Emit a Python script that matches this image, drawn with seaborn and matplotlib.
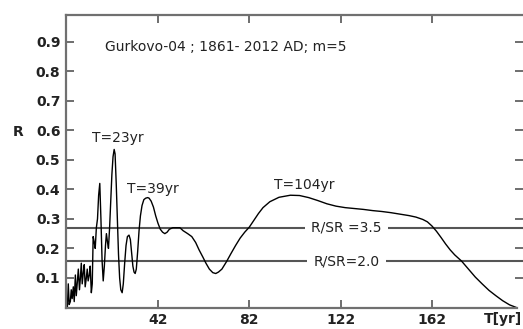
import numpy as np
import pandas as pd
import matplotlib
matplotlib.use('Agg')
import matplotlib.pyplot as plt
import seaborn as sns

# ── Data ─────────────────────────────────────────────────────────────────────
period = [2.0, 2.3, 2.7, 3.1, 3.6, 4.0, 4.4, 4.9, 5.3, 5.8, 6.2, 6.7, 7.1, 7.6,
          8.0, 8.4, 8.8, 9.3, 9.7, 10.1, 10.6, 11.0, 11.4, 11.9, 12.3, 12.8,
          13.2, 13.6, 14.1, 14.5, 15.0, 15.5, 16.0, 16.5, 17.0, 17.5, 18.0,
          18.5, 19.0, 19.4, 19.9, 20.3, 20.8, 21.3, 21.8, 22.3, 22.8, 23.2,
          23.7, 24.2, 24.7, 25.2, 25.7, 26.3, 26.8, 27.4, 28.0, 28.6, 29.3,
          29.9, 30.5, 31.0, 31.5, 32.0, 32.5, 33.1, 33.7, 34.3, 35.0, 35.8,
          36.6, 37.5, 38.1, 39.0, 40.0, 41.0, 42.0, 43.0, 44.0, 45.0, 46.0,
          47.0, 48.5, 50.0, 51.6, 53.0, 55.0, 56.8, 58.5, 60.0, 61.7, 63.0,
          64.5, 66.0, 67.3, 68.5,
          70.0, 72.0, 74.0, 76.0, 78.0, 80.0, 82.0, 84.0, 86.0, 88.0,
          91.0, 95.0, 100.0, 104.0, 108.0, 112.0, 116.0, 120.0, 124.0, 128.0,
          132.0, 136.0, 140.0, 144.0, 148.0, 152.0, 155.0, 158.0, 160.0, 162.0,
          164.0, 166.0, 168.0, 170.0, 172.0, 175.0, 178.0, 181.0, 184.0, 187.0,
          190.0, 193.0, 196.0, 199.0]
r_value = [0.0, 0.0, 0.08, 0.01, 0.02, 0.06, 0.03, 0.07, 0.02, 0.11, 0.04,
           0.09, 0.13, 0.06, 0.10, 0.15, 0.08, 0.12, 0.145, 0.07, 0.10, 0.13,
           0.09, 0.11, 0.14, 0.05, 0.08, 0.24, 0.22, 0.20, 0.27, 0.30, 0.38,
           0.42, 0.30, 0.16, 0.09, 0.14, 0.21, 0.25, 0.22, 0.20, 0.27, 0.36,
           0.45, 0.51, 0.535, 0.52, 0.42, 0.30, 0.18, 0.10, 0.06, 0.05, 0.08,
           0.15, 0.21, 0.24, 0.245, 0.23, 0.18, 0.14, 0.12, 0.115, 0.13,
           0.19, 0.26, 0.31, 0.345, 0.365, 0.37, 0.372, 0.37, 0.36, 0.34,
           0.31, 0.285, 0.265, 0.255, 0.25, 0.255, 0.265, 0.27, 0.27, 0.27,
           0.26, 0.25, 0.24, 0.22, 0.195, 0.17, 0.15, 0.13, 0.118, 0.115,
           0.12,
           0.13, 0.155, 0.183, 0.21, 0.235, 0.255, 0.272, 0.295, 0.318, 0.338,
           0.358, 0.373, 0.38, 0.379, 0.372, 0.362, 0.351, 0.343, 0.338, 0.335,
           0.332, 0.328, 0.325, 0.321, 0.316, 0.311, 0.306, 0.298, 0.29, 0.276,
           0.258, 0.237, 0.215, 0.195, 0.178, 0.157, 0.13, 0.103, 0.08, 0.058,
           0.04, 0.023, 0.009, 0.0]

sr_levels = [0.27, 0.157]
sr_labels = ['R/SR =3.5', 'R/SR=2.0']

x_ticks = [42, 82, 122, 162]
y_ticks = [0.1, 0.2, 0.3, 0.4, 0.5, 0.6, 0.7, 0.8, 0.9]

peak_labels = ['T=23yr', 'T=39yr', 'T=104yr']
peak_pos = [(13.0, 0.575), (28.6, 0.40), (93.0, 0.415)]

df = pd.DataFrame({'T': period, 'R': r_value})

# ── Plot ─────────────────────────────────────────────────────────────────────
sns.set_style('ticks')
fig = plt.figure(figsize=(5.23, 3.29), dpi=100)
ax = fig.add_axes([66/523, 1 - 307.5/329, (523 - 66)/523, (307.5 - 15)/329])

sns.lineplot(data=df, x='T', y='R', ax=ax, color='black', linewidth=1.0,
             sort=False, estimator=None)

for lvl, lab in zip(sr_levels, sr_labels):
    ax.axhline(lvl, color='#555555', linewidth=1.5, zorder=1)
    ax.text(124.5, lvl, lab, ha='center', va='center', fontsize=10,
            color='#222222', zorder=3,
            bbox=dict(facecolor='white', edgecolor='none', pad=4.5))

for lab, (px, py) in zip(peak_labels, peak_pos):
    ax.text(px, py, lab, ha='left', va='center', fontsize=10, color='#222222')

ax.text(18.8, 0.88, 'Gurkovo-04 ; 1861- 2012 AD; m=5', ha='left', va='center',
        fontsize=10, color='#222222')

ax.set_xlim(1.7, 201.9)
ax.set_ylim(0, 0.99)
ax.set_xticks(x_ticks)
ax.set_yticks(y_ticks)
ax.set_xticklabels([str(t) for t in x_ticks], fontsize=10, fontweight='bold',
                   color='#222222')
ax.set_yticklabels([f'{t:.1f}' for t in y_ticks], fontsize=10,
                   fontweight='bold', color='#222222')
ax.set_xlabel('')
ax.set_ylabel('')
ax.tick_params(axis='both', direction='in', length=6, width=1.2,
               color='#555555', top=True, right=True)
ax.tick_params(axis='x', pad=4)
ax.tick_params(axis='y', pad=4)

for side in ['left', 'bottom', 'top']:
    ax.spines[side].set_color('#707070')
    ax.spines[side].set_linewidth(1.6)
ax.spines['right'].set_visible(False)
ax.spines['bottom'].set_bounds(1.7, 199.3)

ax.text(0.998, -0.041, 'T[yr]', transform=ax.transAxes, ha='right',
        va='center', fontsize=10, fontweight='bold', color='#222222')
fig.text(18/523, 1 - 132/329, 'R', ha='center', va='center', fontsize=10,
         fontweight='bold', color='#222222')

fig.savefig('out.png', dpi=100)
